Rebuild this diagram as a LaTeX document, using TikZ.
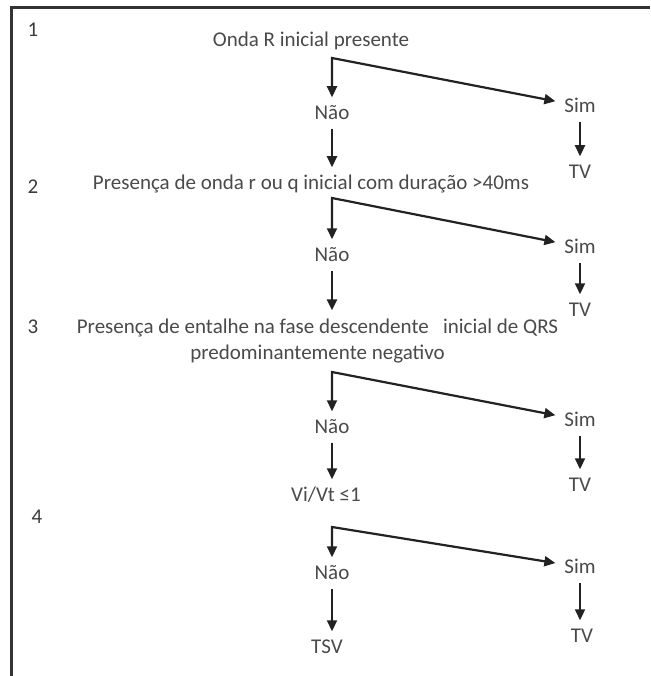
\documentclass[tikz,border=0pt]{standalone}
\usepackage{fontspec}
\setmainfont{Carlito}
\usetikzlibrary{arrows.meta}
\definecolor{ink}{HTML}{222222}
\definecolor{txt}{HTML}{4A4A4A}
\definecolor{framecol}{HTML}{333333}

\begin{document}
\begin{tikzpicture}[x=1pt,y=-1pt,
  lbl/.style={font=\fontsize{21}{26}\selectfont, text=txt, inner sep=0pt,
              outer sep=9pt, text height=13.5pt, text depth=0pt},
  num/.style={font=\fontsize{21}{24}\selectfont, text=txt!80!black, inner sep=0pt},
  question/.style={font=\fontsize{21}{26}\selectfont, text=txt, inner sep=0pt,
              outer sep=9pt, align=center},
  tip/.tip={Triangle[length=11pt,width=10pt]},
  arr/.style={draw=ink, line width=2.2pt, -tip},
  fork/.style={draw=ink, line width=2.2pt, tip-tip, line join=miter},
]
\useasboundingbox (0,0) rectangle (650,676);
\fill[white] (0,0) rectangle (650,676);
% open frame: top and left edges
\draw[framecol, line width=3pt] (650,8) -- (11.5,8) -- (11.5,676);

% step 1
\node[num] (k1) at (33,30) {1};
\node[lbl] (q1) at (311,40) {Onda R inicial presente};
\coordinate (c1) at (332,58);
\node[lbl] (n1) at (332,113) {Não};
\node[lbl] (s1) at (580,106) {Sim};
\node[lbl] (t1) at (580,172) {TV};

% step 2
\node[num] (k2) at (33,187) {2};
\node[lbl] (q2) at (311,183) {Presença de onda r ou q inicial com duração >40ms};
\coordinate (c2) at (332,198);
\node[lbl] (n2) at (332,255) {Não};
\node[lbl] (s2) at (580,247) {Sim};
\node[lbl] (t2) at (580,310) {TV};

% step 3
\node[num] (k3) at (33,327) {3};
\node[question] (q3) at (317.5,341.5) {Presença de entalhe na fase descendente\ \ \ inicial de QRS\\predominantemente negativo};
\coordinate (c3) at (332,372);
\node[lbl] (n3) at (332,427) {Não};
\node[lbl] (s3) at (580,420) {Sim};
\node[lbl] (t3) at (580,485) {TV};
\node[lbl] (v) at (326,495) {Vi/Vt ≤1};

% step 4
\node[num] (k4) at (37,517) {4};
\coordinate (c4) at (332,527);
\node[lbl] (n4) at (332,573) {Não};
\node[lbl] (s4) at (580,567) {Sim};
\node[lbl] (t4) at (582,636) {TV};
\node[lbl] (e) at (327,647) {TSV};

% connectors (vertical arrows keep the x of their start node)
\draw[fork] (n1) -- (c1) -- (s1);
\draw[arr] (s1) -- (s1 |- t1.north);
\draw[arr] (n1) -- (n1 |- q2.north);

\draw[fork] (n2) -- (c2) -- (s2);
\draw[arr] (s2) -- (s2 |- t2.north);
\draw[arr] (n2) -- (n2 |- q3.north);

\draw[fork] (n3) -- (c3) -- (s3);
\draw[arr] (s3) -- (s3 |- t3.north);
\draw[arr] (n3) -- (n3 |- v.north);

\draw[fork] (n4) -- (c4) -- (s4);
\draw[arr] (s4) -- (s4 |- t4.north);
\draw[arr] (n4) -- (n4 |- e.north);
\end{tikzpicture}
\end{document}
